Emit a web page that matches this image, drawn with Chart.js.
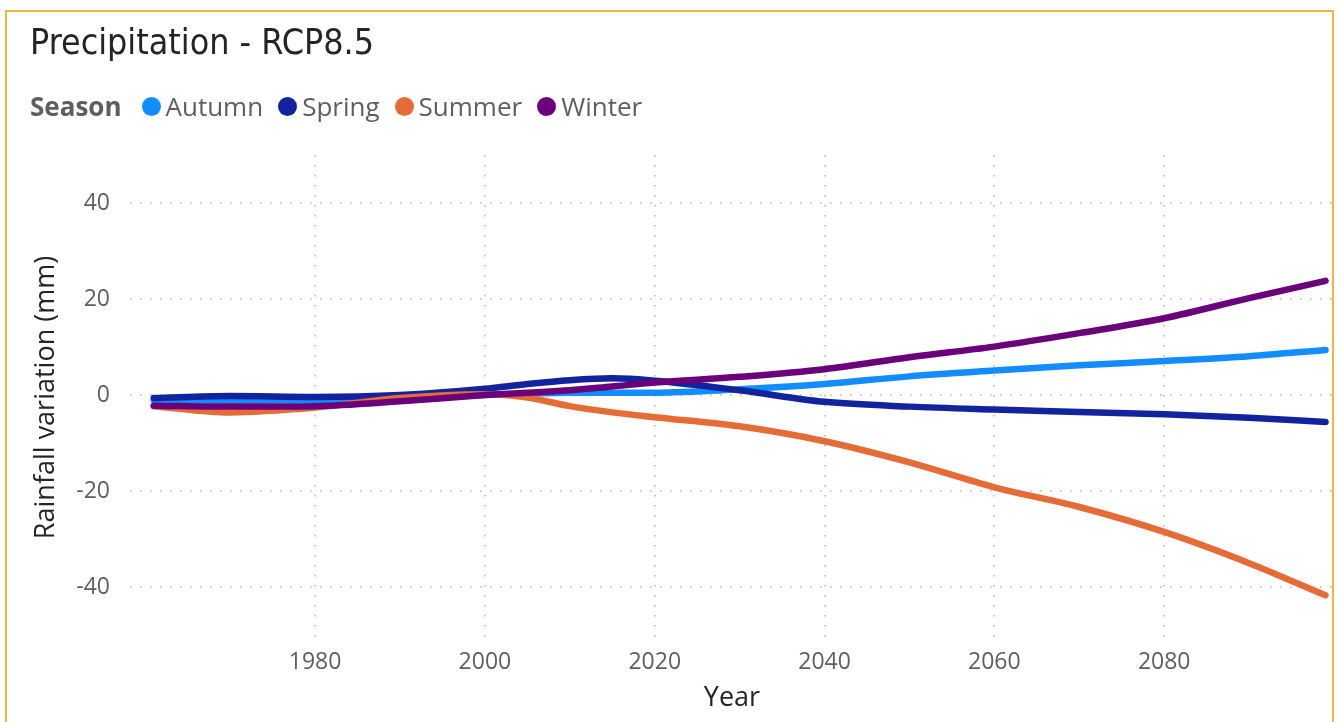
<!DOCTYPE html>
<html>
<head>
<meta charset="utf-8">
<script src="https://cdn.jsdelivr.net/npm/chart.js@4"></script>
<style>
  body { margin: 0; background: #fff; width: 1340px; height: 722px; overflow: hidden; position: relative; }
  #frame { position: absolute; left: 5px; top: 10px; width: 1329px; height: 730px; border: 2px solid #EDB745; box-sizing: border-box; }
  #title { position: absolute; left: 30px; top: 21px; font-family: "DejaVu Sans Condensed", sans-serif; font-size: 35.5px; color: #252423; }
  #legend { position: absolute; left: 30px; top: 88px; display: flex; align-items: center; font-family: "Open Sans", sans-serif; font-size: 26px; color: #605E5C; }
  #legend b { margin-right: 20px; }
  .item { display: flex; align-items: center; margin-right: 15px; }
  .dot { width: 19px; height: 19px; border-radius: 50%; margin-right: 5px; }
  canvas { position: absolute; left: 0; top: 0; }
</style>
</head>
<body>
<div id="frame"></div>
<canvas id="c" width="1340" height="722"></canvas>
<div id="title">Precipitation - RCP8.5</div>
<div id="legend"><b>Season</b></div>
<script>
// data
const years = [1961, 1970, 1980, 1990, 2000, 2005, 2010, 2015, 2020, 2030, 2040, 2050, 2060, 2070, 2080, 2090, 2099];
const autumn = [-1.0, -1.1, -1.0, -0.6, 0.0, 0.3, 0.5, 0.5, 0.5, 1.2, 2.3, 3.9, 5.1, 6.2, 7.1, 8.1, 9.4];
const spring = [-0.6, -0.2, -0.4, 0.0, 1.3, 2.3, 3.1, 3.5, 3.0, 1.0, -1.4, -2.4, -3.0, -3.5, -4.0, -4.7, -5.6];
const summer = [-2.3, -3.6, -2.6, -0.6, 0.2, -0.5, -2.3, -3.6, -4.6, -6.5, -9.6, -14.0, -19.2, -23.3, -28.5, -35.0, -41.7];
const winter = [-2.2, -2.4, -2.3, -1.3, 0.0, 0.5, 1.0, 1.8, 2.6, 3.8, 5.4, 7.9, 10.1, 12.9, 16.0, 20.2, 23.8];

const seasons = ["Autumn", "Spring", "Summer", "Winter"];
const colors = ["#118DFF", "#12239E", "#E66C37", "#6B007B"];
const values = [autumn, spring, summer, winter];

const xTicks = [1980, 2000, 2020, 2040, 2060, 2080];
const yTicks = [-40, -20, 0, 20, 40];

// legend
const legend = document.getElementById("legend");
seasons.forEach((s, i) => {
  const el = document.createElement("div");
  el.className = "item";
  el.innerHTML = `<span class="dot" style="background:${colors[i]}"></span>${s}`;
  legend.appendChild(el);
});

const datasets = seasons.map((s, i) => ({
  label: s,
  data: years.map((y, j) => ({ x: y, y: values[i][j] })),
  borderColor: colors[i],
  backgroundColor: colors[i],
  borderWidth: 6.5,
  pointRadius: 0,
  cubicInterpolationMode: "monotone",
  borderCapStyle: "round",
  order: 4 - i,
}));

const gridStyle = {
  color: "#C8C6C4",
  lineWidth: 2,
  drawTicks: false,
};

new Chart(document.getElementById("c"), {
  type: "line",
  data: { datasets },
  options: {
    responsive: false,
    animation: false,
    layout: { padding: { top: 155, right: 6, left: 0, bottom: 0 } },
    plugins: { legend: { display: false }, tooltip: { enabled: false } },
    scales: {
      x: {
        type: "linear",
        min: 1958.2,
        max: 2100,
        afterBuildTicks: (sc) => { sc.ticks = xTicks.map(v => ({ value: v })); },
        afterFit: (sc) => { sc.height = 82; },
        grid: gridStyle,
        border: { display: false, dash: [1.5, 8.5] },
        ticks: {
          padding: 9,
          color: "#605E5C",
          font: { family: "Open Sans", size: 23 },
          callback: (v) => String(v),
        },
        title: {
          display: true,
          text: "Year",
          color: "#252423",
          font: { family: "Open Sans", size: 27 },
          padding: { top: 0, bottom: 7 },
        },
      },
      y: {
        min: -51,
        max: 50,
        afterBuildTicks: (sc) => { sc.ticks = yTicks.map(v => ({ value: v })); },
        afterFit: (sc) => { sc.width = 130; },
        grid: gridStyle,
        border: { display: false, dash: [1.5, 8.5] },
        ticks: {
          padding: 20,
          color: "#605E5C",
          font: { family: "Open Sans", size: 23 },
        },
        title: {
          display: true,
          text: "Rainfall variation (mm)",
          color: "#252423",
          font: { family: "Open Sans", size: 27 },
          padding: { top: 30, bottom: 0 },
        },
      },
    },
  },
});
</script>
</body>
</html>
